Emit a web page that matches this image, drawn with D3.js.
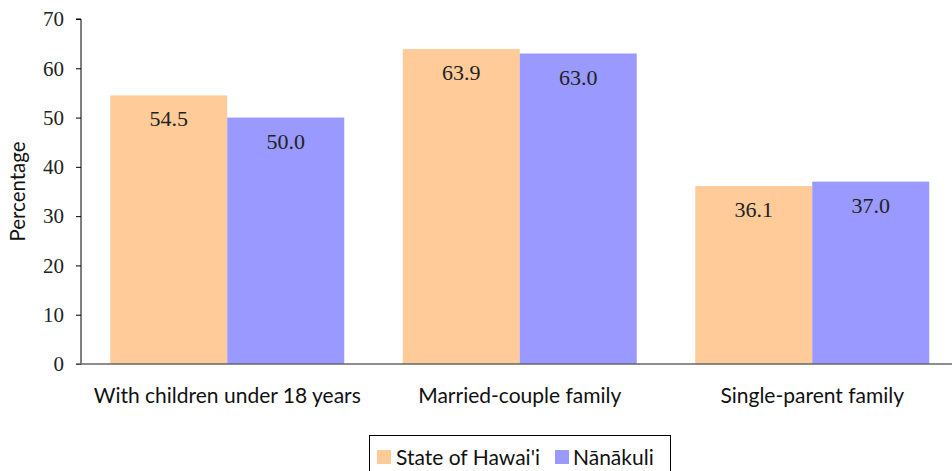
<!DOCTYPE html>
<html><head><meta charset="utf-8">
<script src="https://cdn.jsdelivr.net/npm/d3@7"></script>
<style>body{margin:0;background:#fff}svg{display:block}</style>
</head><body>
<script>
const categories = ["With children under 18 years", "Married-couple family", "Single-parent family"];
const seriesNames = ["State of Hawai'i", "Nānākuli"];
const hawaii = [54.5, 63.9, 36.1];
const nanakuli = [50.0, 63.0, 37.0];
const yTicks = [0, 10, 20, 30, 40, 50, 60, 70];
const colors = ["#ffcc99", "#9999ff"];

const W = 952, H = 471;
const m = {left: 81, top: 19, bottom: 107};
const plotW = 877.5;
const svg = d3.select("body").append("svg").attr("width", W).attr("height", H);

const x0 = d3.scaleBand().domain(categories).range([m.left, m.left + plotW]).paddingInner(0.2).paddingOuter(0.1);
const x1 = d3.scaleBand().domain(seriesNames).range([0, x0.bandwidth()]);
const y = d3.scaleLinear().domain([0, 70]).range([H - m.bottom, m.top]);

const data = categories.map((c, i) => ({c, vals: [hawaii[i], nanakuli[i]]}));

const g = svg.append("g");
const grp = g.selectAll("g.grp").data(data).join("g").attr("transform", d => `translate(${x0(d.c)},0)`);
grp.selectAll("rect").data(d => d.vals.map((v, j) => ({v, s: seriesNames[j], j})))
  .join("rect")
  .attr("x", d => x1(d.s)).attr("width", x1.bandwidth())
  .attr("y", d => y(d.v)).attr("height", d => y(0) - y(d.v))
  .attr("fill", d => colors[d.j]);
grp.selectAll("text").data(d => d.vals.map((v, j) => ({v, s: seriesNames[j]})))
  .join("text")
  .attr("x", d => x1(d.s) + x1.bandwidth() / 2)
  .attr("y", d => y(d.v) + 31)
  .attr("text-anchor", "middle")
  .attr("font-family", "'Liberation Serif', serif").attr("font-size", 22).attr("fill", "#222")
  .text(d => d.v.toFixed(1));

// y axis
const yAxis = d3.axisLeft(y).tickValues(yTicks).tickSize(5).tickPadding(12).tickFormat(d3.format("d"));
const ya = svg.append("g").attr("transform", `translate(${m.left},0)`).call(yAxis);
ya.select(".domain").attr("stroke", "#000").attr("d", `M-5,${y(70)}H0V${y(0)}`);
ya.selectAll(".tick line").attr("stroke", "#000");
ya.selectAll(".tick text").attr("font-family", "'Liberation Serif', serif").attr("font-size", 21).attr("fill", "#222");

// x axis baseline
svg.append("line").attr("x1", m.left - 5).attr("x2", W).attr("y1", y(0)).attr("y2", y(0)).attr("stroke", "#666").attr("stroke-width", 1.5);

// x labels
const xa = svg.append("g").attr("transform", `translate(0,${y(0)})`).call(d3.axisBottom(x0).tickSize(0).tickPadding(24));
xa.select(".domain").remove();
xa.selectAll(".tick text").attr("font-family", "Lato, sans-serif").attr("font-size", 21).attr("fill", "#111");

// y title
svg.append("text").attr("transform", `translate(25,${(y(0) + y(70)) / 2}) rotate(-90)`)
  .attr("text-anchor", "middle").attr("font-family", "Lato, sans-serif").attr("font-size", 20.5).attr("fill", "#111")
  .text("Percentage");

// legend
const lg = svg.append("g");
lg.append("rect").attr("x", 369.5).attr("y", 435.5).attr("width", 301).attr("height", 40).attr("fill", "#fff").attr("stroke", "#000");
const items = [{x: 377, tx: 396}, {x: 555, tx: 573}];
seriesNames.forEach((s, i) => {
  lg.append("rect").attr("x", items[i].x).attr("y", 450).attr("width", 14).attr("height", 14).attr("fill", colors[i]);
  lg.append("text").attr("x", items[i].tx).attr("y", 465).attr("font-family", "Lato, sans-serif").attr("font-size", 21).attr("fill", "#111").text(s);
});
</script>
</body></html>
